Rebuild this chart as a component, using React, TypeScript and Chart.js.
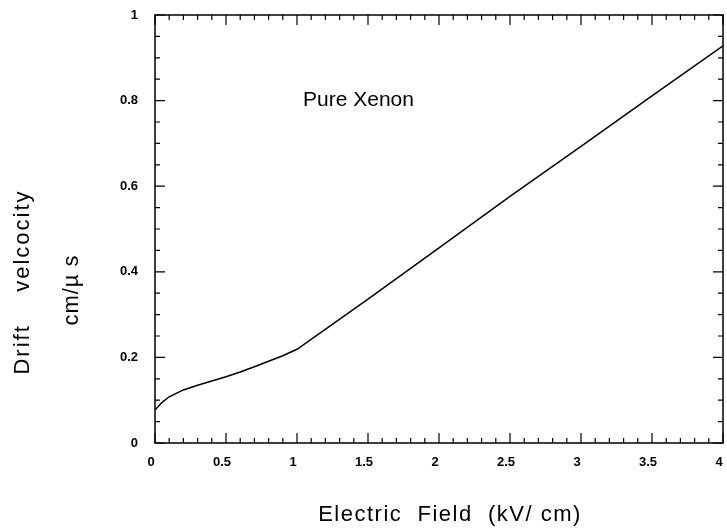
import React, { useEffect, useRef } from "react";
import { Chart, registerables } from "chart.js";

Chart.register(...registerables);

// Electron drift velocity in pure xenon vs. applied electric field
const fieldKVcm = [0, 0.05, 0.1, 0.2, 0.3, 0.4, 0.5, 0.6, 0.7, 0.8, 0.9, 1.0, 1.5, 2.0, 2.5, 3.0, 3.5, 4.0];
const driftVelocity = [0.077, 0.095, 0.108, 0.124, 0.135, 0.145, 0.155, 0.166, 0.178, 0.191, 0.204, 0.219, 0.336, 0.456, 0.576, 0.693, 0.811, 0.928];

const xTickLabels = ["0", "0.5", "1", "1.5", "2", "2.5", "3", "3.5", "4"];
const yTickLabels = ["0", "0.2", "0.4", "0.6", "0.8", "1"];

const W = 727;
const H = 529;
const PLOT_LEFT = 155;
const PLOT_RIGHT = 723;
const PLOT_TOP = 15;
const PLOT_BOTTOM = 443;

const FONT = "'Liberation Sans', Arial, sans-serif";

const frameAndText = {
  id: "frameAndText",
  afterDatasetsDraw(chart: any) {
    const { ctx, chartArea, scales } = chart;
    const xs = scales.x;
    const ys = scales.y;
    const { left, right, top, bottom } = chartArea;
    ctx.save();
    ctx.strokeStyle = "#000";
    ctx.lineWidth = 1.5;
    ctx.strokeRect(left, top, right - left, bottom - top);

    ctx.lineWidth = 1.2;
    ctx.beginPath();
    // x ticks every 0.1, major every 0.5, pointing inward top and bottom
    for (let i = 0; i <= 40; i++) {
      const v = i / 10;
      const px = xs.getPixelForValue(v);
      const len = i % 5 === 0 ? 10 : 5;
      ctx.moveTo(px, bottom);
      ctx.lineTo(px, bottom - len);
      ctx.moveTo(px, top);
      ctx.lineTo(px, top + len);
    }
    // y ticks every 0.05, major every 0.2
    for (let i = 0; i <= 20; i++) {
      const v = i / 20;
      const py = ys.getPixelForValue(v);
      const len = i % 4 === 0 ? 10 : 5;
      ctx.moveTo(left, py);
      ctx.lineTo(left + len, py);
      ctx.moveTo(right, py);
      ctx.lineTo(right - len, py);
    }
    ctx.stroke();

    // annotation
    ctx.fillStyle = "#000";
    ctx.font = `21px ${FONT}`;
    ctx.textAlign = "left";
    ctx.textBaseline = "middle";
    ctx.fillText("Pure Xenon", 303, 100);

    // x axis title
    ctx.font = `22px ${FONT}`;
    (ctx as any).letterSpacing = "1.5px";
    ctx.textAlign = "center";
    ctx.fillText("Electric  Field  (kV/ cm)", 450, 515);

    // y axis titles (rotated)
    ctx.save();
    ctx.translate(23, 282);
    ctx.rotate(-Math.PI / 2);
    (ctx as any).letterSpacing = "2px";
    ctx.fillText("Drift    velcocity", 0, 0);
    ctx.restore();
    ctx.save();
    ctx.translate(72, 290);
    ctx.rotate(-Math.PI / 2);
    (ctx as any).letterSpacing = "1px";
    ctx.fillText("cm/\u00b5 s", 0, 0);
    ctx.restore();
    (ctx as any).letterSpacing = "0px";
    ctx.restore();
  },
};

export default function App() {
  const ref = useRef<HTMLCanvasElement | null>(null);

  useEffect(() => {
    if (!ref.current) return;
    const tickFont = { family: FONT, size: 13, weight: "bold" as const };
    const chart = new Chart(ref.current, {
      type: "scatter",
      data: {
        datasets: [
          {
            data: fieldKVcm.map((x, i) => ({ x, y: driftVelocity[i] })),
            showLine: true,
            borderColor: "#000",
            borderWidth: 1.5,
            pointRadius: 0,
            tension: 0,
          },
        ],
      },
      options: {
        responsive: false,
        animation: false,
        events: [],
        layout: { padding: { left: 0, right: W - PLOT_RIGHT, top: PLOT_TOP, bottom: 0 } },
        plugins: { legend: { display: false }, tooltip: { enabled: false } },
        scales: {
          x: {
            type: "linear",
            min: 0,
            max: 4,
            grid: { display: false, drawTicks: false },
            border: { display: false },
            afterFit: (s: any) => {
              s.height = H - PLOT_BOTTOM;
              s.paddingLeft = 0;
              s.paddingRight = 0;
            },
            ticks: {
              stepSize: 0.5,
              padding: 12,
              labelOffset: -4,
              color: "#000",
              font: tickFont,
              callback: (v: any) => xTickLabels[Math.round(Number(v) * 2)] ?? "",
            },
          },
          y: {
            type: "linear",
            min: 0,
            max: 1,
            grid: { display: false, drawTicks: false },
            border: { display: false },
            afterFit: (s: any) => {
              s.width = PLOT_LEFT;
              s.paddingTop = 0;
              s.paddingBottom = 0;
            },
            ticks: {
              stepSize: 0.2,
              padding: 17,
              color: "#000",
              font: tickFont,
              callback: (v: any) => yTickLabels[Math.round(Number(v) * 5)] ?? "",
            },
          },
        },
      },
      plugins: [frameAndText],
    });
    return () => chart.destroy();
  }, []);

  return (
    <div style={{ position: "absolute", left: 0, top: 0, width: W, height: H, background: "#fff" }}>
      <canvas ref={ref} width={W} height={H} />
    </div>
  );
}
